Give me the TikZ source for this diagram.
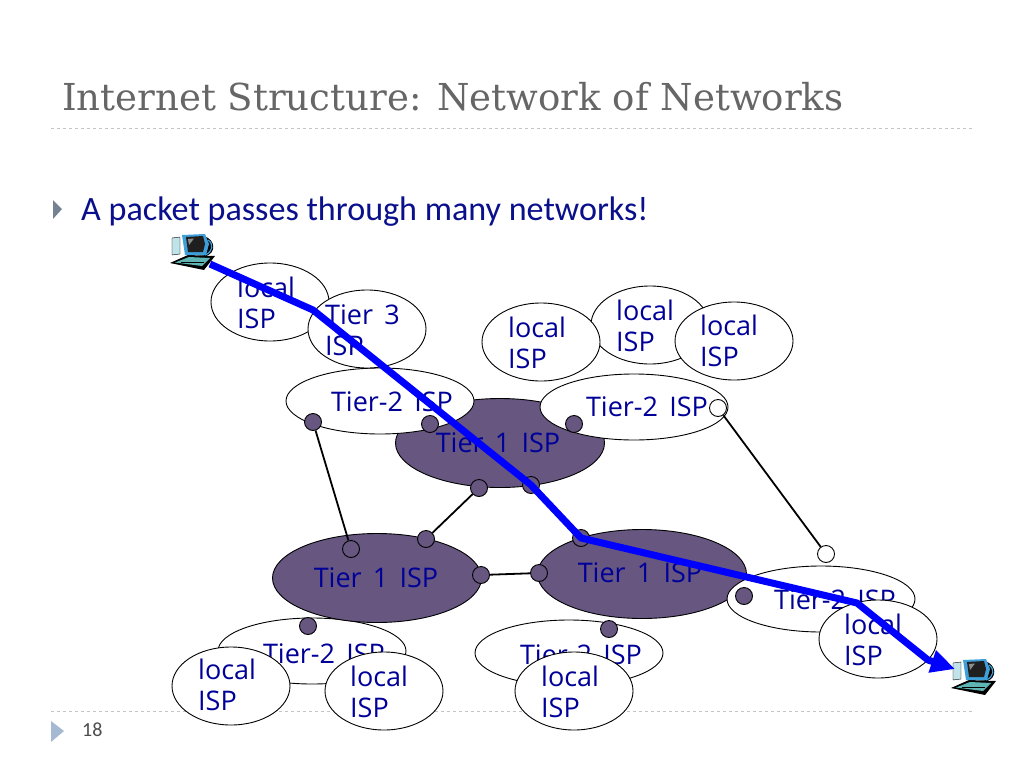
\documentclass[tikz,border=0pt]{standalone}
\usepackage{fontspec}
\setmainfont[WordSpace=1.6]{Open Sans}
\newfontfamily\titlefont{DejaVu Serif}
\newfontfamily\bodyfont{Carlito}
\usetikzlibrary{shapes.geometric,arrows.meta}

\definecolor{ispblue}{HTML}{000099}
\definecolor{bodyblue}{HTML}{0A0F8C}
\definecolor{coreviolet}{HTML}{665680}
\definecolor{rulegray}{HTML}{C4C4C4}
\definecolor{markerblue}{HTML}{A5B9D2}
\definecolor{pcframe}{HTML}{3F9FD8}
\definecolor{pcdesk}{HTML}{5FB4B4}
\definecolor{pctower}{HTML}{BFE3E8}

\tikzset{
  cloud2/.style={ellipse,draw=black,fill=white,line width=0.9pt,inner sep=0pt,minimum width=#1,minimum height=66pt},
  cloud3/.style={ellipse,draw=black,fill=white,line width=0.9pt,inner sep=0pt,minimum width=118pt,minimum height=78pt},
  core/.style={ellipse,draw=black,fill=coreviolet,line width=0.9pt,inner sep=0pt,minimum width=209pt,minimum height=89pt},
  isplabel/.style={text=ispblue,font=\fontsize{27}{30.5}\selectfont,align=left,inner sep=0pt},
  port/.style={circle,draw=black,fill=coreviolet,line width=0.9pt,inner sep=0pt,minimum size=17pt},
  freeport/.style={port,fill=white},
  link/.style={draw=black,line width=1.8pt},
  route/.style={draw=blue,line width=7pt,line join=round},
  pcicon/.pic={
    % desk and keyboard
    \fill[black] (0,28) -- (18,20) -- (45,21) -- (34,35) -- cycle;
    \fill[pcdesk] (5,27.5) -- (19,22) -- (40,23) -- (32,31) -- cycle;
    \draw[black,line width=0.5pt] (11,27) -- (34,27);
    % tower
    \fill[pctower] (2,3) -- (10,2) -- (10,19) -- (2,20) -- cycle;
    \draw[black,line width=0.4pt] (2,3) -- (10,2) -- (10,19) -- (2,20) -- cycle;
    % monitor back and frame
    \fill[black] (34,1) .. controls (46,5) and (46,18) .. (36,21) -- (28,20) -- cycle;
    \draw[pcframe,line width=1.2pt] (38,5) .. controls (44,9) and (43,17) .. (35,20);
    \fill[pcframe] (12,0) -- (35,-1) -- (39,9) -- (36,20) -- (15,20) -- cycle;
    \fill[black!88] (16,2) -- (33,1) -- (35,9) -- (33,17) -- (18,17) -- cycle;
    \fill[black!45] (18,4) -- (24,3.5) -- (19,10) -- cycle;
  }
}

\begin{document}
\begin{tikzpicture}[x=1pt,y=-1pt]
\useasboundingbox (0,0) rectangle (1024,768);
\fill[white] (0,0) rectangle (1024,768);

% slide frame
\node (title) at (62,97) [anchor=west,inner sep=0pt,text=black!60,font=\titlefont\fontsize{37.1}{42}\selectfont] {Internet Structure: Network of Networks};
\coordinate (ruletopl) at (51,128);
\coordinate (ruletopr) at (973,128);
\draw[rulegray,dashed,line width=0.9pt] (ruletopl) -- (ruletopr);
\coordinate (rulebotl) at (51,711);
\coordinate (rulebotr) at (973,711);
\draw[rulegray,dashed,line width=0.9pt] (rulebotl) -- (rulebotr);

\fill[markerblue!70!black] (53,200) -- (62,209) -- (53,219) -- cycle;
\node (bullet) at (81,212) [anchor=west,inner sep=0pt,text=bodyblue,font=\bodyfont\fontsize{34.1}{40}\selectfont] {A packet passes through many networks!};
\fill[markerblue] (51,721) -- (64,731) -- (51,742) -- cycle;
\node (pagenum) at (82,730) [anchor=west,inner sep=0pt,text=black!70,font=\bodyfont\fontsize{20}{24}\selectfont] {18};

% tier 2 behind the core
\node[cloud2=188pt] (tierD) at (312,651) {};
\node[isplabel] (tierDt) at (324,654) {Tier-2 ISP};
\node[cloud2=188pt] (tierE) at (569,653) {};
\node[isplabel] (tierEt) at (581,655) {Tier-2 ISP};

% core
\node[core] (coretop) at (500,443) {};
\node[core] (coreleft) at (377,578) {};
\node[core] (coreright) at (642,574) {};
\node[isplabel] (coretopt) at (498,443) {Tier 1 ISP};
\node[isplabel] (corelleftt) at (376,578) {Tier 1 ISP};
\node[isplabel] (corerightt) at (640,573) {Tier 1 ISP};

% tier 2
\node[cloud2=188pt] (tierA) at (380,401) {};
\node[isplabel] (tierAt) at (392,402) {Tier-2 ISP};
\node[cloud2=188pt] (tierB) at (634,407) {};
\node[isplabel] (tierBt) at (647,407) {Tier-2 ISP};
\node[cloud2=188pt] (tierC) at (821,599) {};
\node[isplabel] (tierCt) at (835,600) {Tier-2 ISP};

% local and tier 3
\node[cloud3] (localA) at (270,302) {};
\node[isplabel,anchor=west] (localAt) at (237,303) {local\\ISP};
\node[cloud3] (tierT) at (367,329) {};
\node[isplabel,anchor=west] (tierTt) at (325,330) {Tier 3\\ISP};
\node[cloud3] (localC) at (650,325) {};
\node[isplabel,anchor=west] (localCt) at (616,326) {local\\ISP};
\node[cloud3] (localB) at (541,342) {};
\node[isplabel,anchor=west] (localBt) at (508,343) {local\\ISP};
\node[cloud3] (localD) at (734,341) {};
\node[isplabel,anchor=west] (localDt) at (700,341) {local\\ISP};
\node[cloud3] (localE) at (878,639) {};
\node[isplabel,anchor=west] (localEt) at (844,640) {local\\ISP};
\node[cloud3] (localF) at (231,686) {};
\node[isplabel,anchor=west] (localFt) at (198,685) {local\\ISP};
\node[cloud3] (localG) at (384,691) {};
\node[isplabel,anchor=west] (localGt) at (350,692) {local\\ISP};
\node[cloud3] (localH) at (574,691) {};
\node[isplabel,anchor=west] (localHt) at (541,692) {local\\ISP};

% router ports
\foreach \nm/\px/\py in {pa/313/422,pb/430/424,pc/574/424,pd/479/488,pe/531/485,pf/351/549,pg/426/539,ph/481/575,pi/539/573,pj/581/538,pk/744/596,pl/308/626,pm/609/629}
  \node[port] (\nm) at (\px,\py) {};
\node[freeport] (pn) at (718,408) {};
\node[freeport] (po) at (826,554) {};

\draw[link] (pa) -- (pf);
\draw[link] (pd) -- (pg);
\draw[link] (ph) -- (pi);
\draw[link] (pn) -- (po);

% hosts
\pic at (170,235) {pcicon};
\pic at (951,660) {pcicon};

% packet route
\coordinate (hostA) at (210,264);
\coordinate (bendA) at (313,310);
\coordinate (hostB) at (955,669);
\coordinate (bendB) at (857,603);
\coordinate (bendC) at (928,660);
\draw[route,-{Triangle[length=24pt,width=22pt]}] (hostA) -- (bendA) -- (pe.center) -- (pj.center) -- (bendB) -- (bendC) -- (hostB);

\end{tikzpicture}
\end{document}
